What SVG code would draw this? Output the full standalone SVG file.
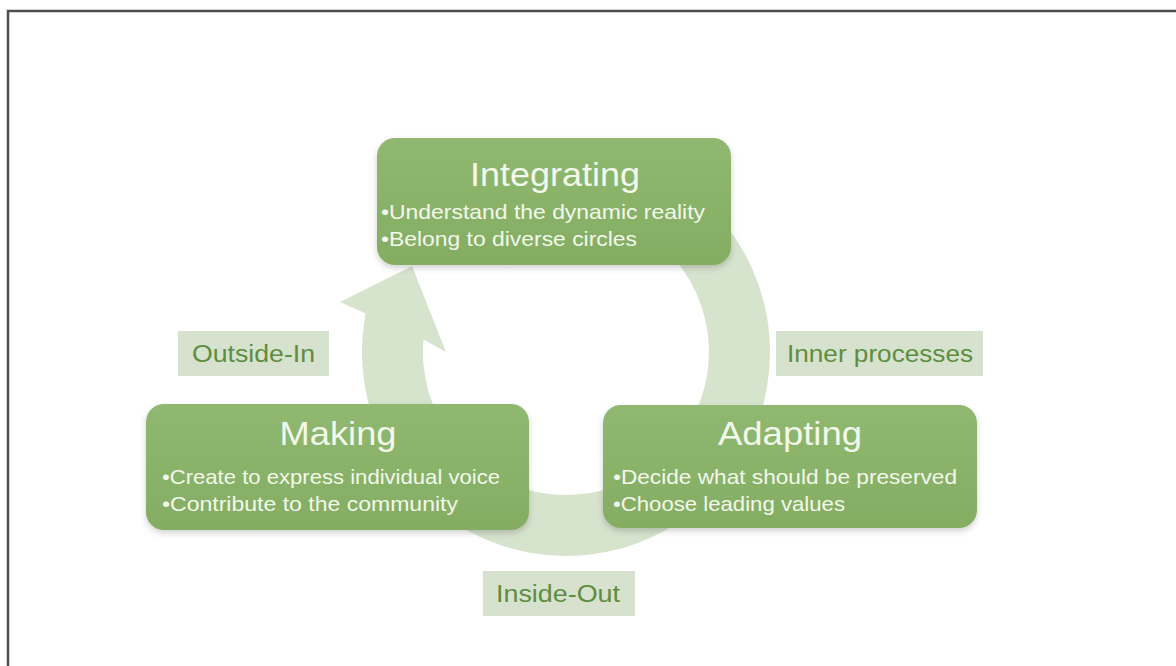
<svg xmlns="http://www.w3.org/2000/svg" width="1176" height="666" viewBox="0 0 1176 666">
  <defs>
    <filter id="sh" x="-10%" y="-10%" width="120%" height="130%">
      <feDropShadow dx="0" dy="3" stdDeviation="3" flood-color="#000" flood-opacity="0.18"/>
    </filter>
    <linearGradient id="g" x1="0" y1="0" x2="0" y2="1">
      <stop offset="0" stop-color="#90b870"/>
      <stop offset="1" stop-color="#84ad63"/>
    </linearGradient>
  </defs>
  <style>
    .box { fill: url(#g); filter: url(#sh); }
    .title { font-family: "Liberation Sans", Arial, sans-serif; font-size: 34px; fill: #f2f8ea; text-anchor: middle; }
    .bul { font-family: "Liberation Sans", Arial, sans-serif; font-size: 21px; fill: #f2f8ea; }
    .lblbox { fill: #d6e2cd; }
    .lbl { font-family: "Liberation Sans", Arial, sans-serif; font-size: 23px; fill: #5e8d40; }
    .ring { fill: #d6e3cd; }
    .frame { stroke: #4d4d4d; stroke-width: 2.5; fill: none; }
  </style>
  <rect width="1176" height="666" fill="#ffffff"/>
  <path class="frame" d="M 8 666 L 8 11 L 1176 11"/>

  <g id="connectors">
    <path class="ring" d="M 365.7 313.5 A 204 204 0 1 0 601.4 151.1 L 590.8 211.2 A 143 143 0 1 1 423.5 339.4 L 446 352 L 412 266 L 340 302 Z"/>
  </g>

  <g id="label-outside-in">
    <rect class="lblbox" x="178" y="331" width="151" height="45"/>
    <text class="lbl" x="192" y="362" textLength="123" lengthAdjust="spacingAndGlyphs">Outside-In</text>
  </g>
  <g id="label-inner-processes">
    <rect class="lblbox" x="776" y="331" width="207" height="45"/>
    <text class="lbl" x="787" y="362" textLength="186" lengthAdjust="spacingAndGlyphs">Inner processes</text>
  </g>
  <g id="label-inside-out">
    <rect class="lblbox" x="483" y="571" width="152" height="45"/>
    <text class="lbl" x="496" y="602" textLength="124" lengthAdjust="spacingAndGlyphs">Inside-Out</text>
  </g>

  <g id="node-integrating">
    <rect class="box" x="377" y="138" width="354" height="127" rx="18"/>
    <text class="title" x="555" y="186" textLength="170" lengthAdjust="spacingAndGlyphs">Integrating</text>
    <text class="bul" x="381" y="219" textLength="324" lengthAdjust="spacingAndGlyphs">•Understand the dynamic reality</text>
    <text class="bul" x="381" y="246" textLength="256" lengthAdjust="spacingAndGlyphs">•Belong to diverse circles</text>
  </g>

  <g id="node-making">
    <rect class="box" x="146" y="404" width="383" height="126" rx="18"/>
    <text class="title" x="338" y="445" textLength="117" lengthAdjust="spacingAndGlyphs">Making</text>
    <text class="bul" x="162" y="484" textLength="338" lengthAdjust="spacingAndGlyphs">•Create to express individual voice</text>
    <text class="bul" x="162" y="511" textLength="296" lengthAdjust="spacingAndGlyphs">•Contribute to the community</text>
  </g>

  <g id="node-adapting">
    <rect class="box" x="603" y="405" width="374" height="123" rx="18"/>
    <text class="title" x="790" y="445" textLength="144" lengthAdjust="spacingAndGlyphs">Adapting</text>
    <text class="bul" x="613" y="484" textLength="344" lengthAdjust="spacingAndGlyphs">•Decide what should be preserved</text>
    <text class="bul" x="613" y="511" textLength="232" lengthAdjust="spacingAndGlyphs">•Choose leading values</text>
  </g>
</svg>
